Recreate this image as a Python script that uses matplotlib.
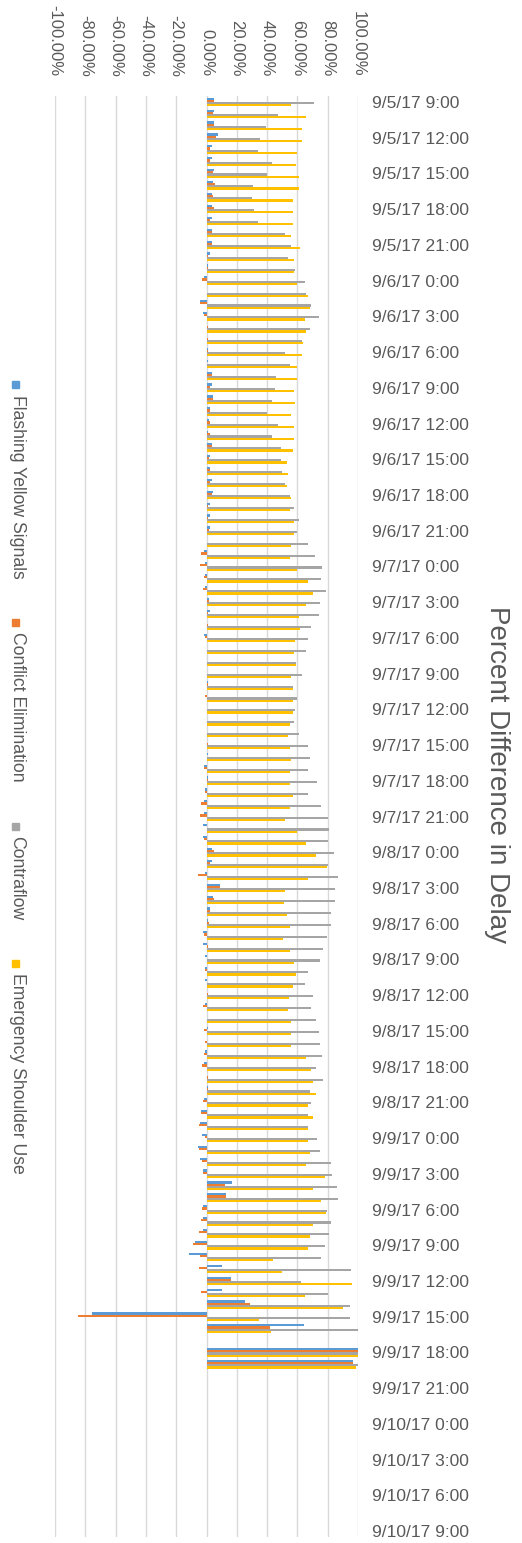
import numpy as np
import pandas as pd
import matplotlib
matplotlib.use("Agg")
import matplotlib.pyplot as plt
from matplotlib.patches import Rectangle
from matplotlib.ticker import PercentFormatter

plt.rcParams['font.family'] = ['Liberation Sans', 'DejaVu Sans']
plt.rcParams['axes.unicode_minus'] = False

# hourly categories, 9/5/17 9:00 .. 9/10/17 9:00
hours = pd.date_range('2017-09-05 09:00', '2017-09-10 09:00', freq='h')
labels = [f"{t.month}/{t.day}/{t:%y} {t.hour}:00" for t in hours]

series = ["Flashing Yellow Signals", "Conflict Elimination", "Contraflow",
          "Emergency Shoulder Use"]
colors = ["#5B9BD5", "#ED7D31", "#A5A5A5", "#FFC000"]

# percent difference in delay (only the first 107 hours have data)
flashing = [5, 5, 5, 7.5, 3.5, 3.5, 5, 4.4, 3.5, 3.5,
            3.5, 3.5, 3.5, 2, 1, -1.5, 0, -4, -2.4, 0.3, 0,
            1, 1, 3.5, 3.5, 4.4, 2.4, 1.5, 1, 3.5, 2.4, 2,
            3.5, 4.4, 2, 2, 2.4, 0, -1.5, -1, -1, -1, 1.5,
            2, 0, -1.5, 0, 0, 0, 1, 0, 0, 0, 0,
            0, 1, -1.5, 1, -1, -1.5, -1.5, -2.6, -2.4, 3.5, 3.5,
            -1, 9, 4.4, 2, 1, -2.4, -2, -1, -1, -1, 0,
            -1, 0, 1, 0, -1, -1.5, 0, 1, -1.5, -3.8, -4.2,
            -3.3, -5.5, -4.6, -2.6, 17, 13.2, -2, -2, -2.4, -7.5, -11.7,
            10, 16, 10.4, 25.6, -75.7, 64.5, 0, 100, 97]
conflict = [5, 4, 5, 6.6, 2, 2.4, 4, 5.7, 4.4, 5,
            2.4, 3.5, 3.5, 1, 1, -3.3, 0, -4.6, -1.8, 1, 1,
            1, 0, 3.5, 2.4, 4.4, 2.4, 2.4, 2.4, 3.5, 1.5, 2,
            2.4, 3.5, 1, 1, 1.5, 0, -3.5, -4, -1.8, -2.6, 1.5,
            1, 1, -1, 0, 0, 0, 1, -1, 0, 0, 0,
            1, 0, -1.5, 1, -1, -3.5, -4.2, 0, -1.5, 5, 2.4,
            -5.7, 9, 5, 2.4, 1.5, -1.5, 1, 0, -1, 0, 1,
            -2.4, 0, -1.5, -1, -1.5, -3.3, 1, 1, -2.4, -3.5, -5,
            -1, -5, -2.9, -2, 12.4, 13.2, -2.9, -3.8, -5, -9, -4,
            -5, 16, -3.5, 29, -84.5, 41.7, 0, 100, 97]
contraflow = [71, 47, 39, 35.5, 34, 43, 40, 31, 30, 31.5,
              34, 52, 56, 54, 58.5, 65, 66, 69, 74, 68, 63,
              52, 55, 46, 45, 43.5, 40, 47.5, 43.5, 49, 49, 50,
              52, 55, 58, 61, 60, 67, 71.5, 76, 75.5, 78.6, 74.6,
              74, 69, 66.7, 66, 59.4, 63, 57, 60, 58.5, 58, 61,
              66.7, 68, 66.7, 73, 67, 75.5, 80, 81, 80, 84, 80,
              86.8, 85, 85, 82, 82, 79.5, 77, 74.6, 67, 65, 70,
              69, 72, 74, 74.6, 76.4, 72, 77, 68, 69, 66.7, 67,
              73, 74.6, 82, 82.8, 86, 86.8, 79.5, 82, 81, 78, 75.5,
              95.6, 62.7, 80, 94.7, 94.7, 100, 0, 100, 100]
shoulder = [56, 66, 63, 63, 60, 59, 61, 61, 57, 57,
            57, 56, 62, 58, 58, 59.6, 66.7, 68, 65, 66, 64,
            63, 60, 60, 58, 58.5, 56, 58, 58, 57, 53, 54,
            53, 56, 55, 58, 58, 56, 55, 60, 66.7, 70.6, 66,
            61, 62, 58.5, 58, 59, 56, 57, 57, 57, 55, 54,
            55, 56, 55, 55.4, 57, 55.4, 52, 60, 66, 72, 79.5,
            67, 52, 51.4, 53, 55.4, 50.5, 55.4, 58, 59.4, 57, 54.5,
            54, 56, 56, 56, 66, 69, 70, 72, 67, 70, 66.7,
            66.7, 68, 66, 78, 70.6, 75.5, 78.6, 70, 68, 67, 44,
            49.7, 96, 65, 90, 34.4, 42.6, 0, 100, 99]

W, H = 522, 1543
fig = plt.figure(figsize=(W / 100, H / 100), dpi=100)
ax = fig.add_axes([55 / W, 1 - 1537 / H, (358 - 55) / W, (1537 - 96) / H])

bh = 0.18
for i, (vals, c) in enumerate(zip([flashing, conflict, contraflow, shoulder], colors)):
    y = np.arange(len(vals)) + (i - 1.5) * bh
    ax.barh(y, np.array(vals) / 100, height=bh, color=c)

ax.set_xlim(-1, 1)
ax.set_ylim(len(hours) - 0.5, -0.5)
ax.set_xticks(np.round(np.linspace(-1, 1, 11), 2))
ax.xaxis.set_major_formatter(PercentFormatter(1, decimals=2))
ax.xaxis.tick_top()
ax.tick_params(axis='x', length=0, pad=14, labelsize=12, labelcolor='#595959',
               labelrotation=270)

ax.yaxis.tick_right()
ax.set_yticks(range(0, len(hours), 3))
ax.set_yticklabels(labels[::3])
ax.tick_params(axis='y', length=0, pad=10, labelsize=12.5, labelcolor='#595959')

ax.grid(axis='x', color='#D9D9D9', lw=1)
ax.set_axisbelow(True)
for s in ax.spines.values():
    s.set_visible(False)

fig.text(497 / W, 1 - 775 / H, "Percent Difference in Delay", rotation=270,
         ha='center', va='center', fontsize=20, color='#595959')

# legend, rotated like the rest of the chart
marker_y = [385, 622, 826, 963]
for name, c, my in zip(series, colors, marker_y):
    fig.patches.append(Rectangle(((15 - 3.5) / W, 1 - (my + 3.5) / H), 7 / W, 7 / H,
                                 transform=fig.transFigure, color=c))
    fig.text(17 / W, 1 - (my + 10) / H, name, rotation=270, ha='center', va='top',
             fontsize=12.7, color='#595959')

fig.savefig("out.png", dpi=100)
